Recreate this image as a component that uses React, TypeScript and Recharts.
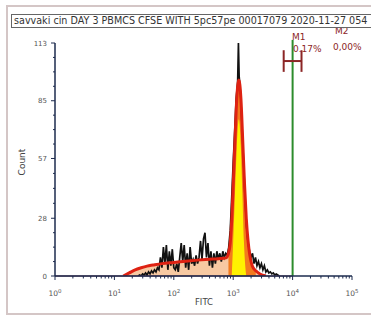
import React from 'react';
import { ComposedChart, Area, Line, XAxis, YAxis, ReferenceLine } from 'recharts';

// Histogram header and axis labelling
const title = 'savvaki cin DAY 3 PBMCS CFSE WITH 5pc57pe 00017079 2020-11-27 054';
const decades = [0, 1, 2, 3, 4, 5];
const countTicks = [0, 28, 57, 85, 113];

// Raw event counts per channel (log10 FITC, count)
const rawCounts: [number, number][] = [
  [1.4, 0], [1.425, 0.5], [1.45, 0], [1.475, 1], [1.5, 0.5], [1.525, 1.5], [1.55, 0.5], [1.575, 2],
  [1.6, 1], [1.625, 2.5], [1.65, 1.5], [1.675, 3], [1.7, 2], [1.725, 4], [1.75, 3], [1.775, 9],
  [1.8, 4], [1.825, 14], [1.85, 6], [1.875, 15], [1.9, 3], [1.925, 12], [1.95, 5], [1.975, 13],
  [2.0, 4], [2.025, 3], [2.05, 6], [2.075, 2], [2.1, 9], [2.125, 16], [2.15, 7], [2.175, 15],
  [2.2, 4], [2.225, 11], [2.25, 3], [2.275, 14], [2.3, 6], [2.325, 8], [2.35, 5], [2.375, 10],
  [2.4, 6], [2.425, 9], [2.45, 17], [2.475, 8], [2.5, 18], [2.525, 21], [2.55, 9], [2.575, 16],
  [2.6, 5], [2.625, 12], [2.65, 4], [2.675, 11], [2.7, 6], [2.725, 12], [2.75, 8], [2.775, 11],
  [2.8, 7], [2.825, 12], [2.85, 9], [2.875, 11], [2.9, 10], [2.925, 14], [2.95, 22], [2.975, 38],
  [3.0, 55], [3.025, 70], [3.05, 86], [3.075, 94], [3.088, 113], [3.1, 97], [3.125, 88], [3.15, 72],
  [3.175, 55], [3.2, 38], [3.225, 24], [3.25, 16], [3.275, 12], [3.3, 9], [3.325, 11], [3.35, 6],
  [3.375, 9], [3.4, 5], [3.425, 7], [3.45, 4], [3.475, 6], [3.5, 3], [3.525, 5], [3.55, 2],
  [3.575, 3], [3.6, 1.5], [3.625, 2], [3.65, 1], [3.675, 1.5], [3.7, 0.5], [3.725, 1], [3.75, 0.5],
  [3.775, 0],
];

// Fitted model curve
const fitCounts: [number, number][] = [
  [1.15, 0], [1.25, 1.5], [1.35, 3], [1.45, 4], [1.55, 4.8], [1.65, 5.3], [1.8, 6], [2.0, 6.6],
  [2.2, 7.2], [2.4, 7.7], [2.6, 8.1], [2.75, 8.4], [2.88, 8.8], [2.92, 11], [2.95, 16], [2.98, 30],
  [3.0, 44], [3.03, 66], [3.06, 86], [3.095, 95], [3.13, 86], [3.16, 66], [3.19, 45], [3.22, 28],
  [3.25, 17], [3.28, 10], [3.32, 5], [3.38, 2.5], [3.45, 1], [3.55, 0],
];

// Parent-generation peak component
const peakCore: [number, number][] = [
  [2.975, 0], [3.0, 17], [3.03, 40], [3.06, 62], [3.095, 76], [3.13, 62], [3.155, 40], [3.18, 17], [3.22, 0],
];

// Marker gate M1 and divider
const gateX = 4;
const m1Range = { from: 3.85, to: 4.15, low: 99, high: 109.5 };
const m1Label = { name: 'M1', pct: '0.17%' };
const m2Label = { name: 'M2', pct: '0,00%' };

const toRows = (pts: [number, number][]) => pts.map(([d, c]) => ({ d, c }));
const rawRows = toRows(rawCounts);
const fitRows = toRows(fitCounts);
const peakRows = fitRows.filter((r) => r.d >= 2.9 && r.d <= 3.4);
const coreRows = toRows(peakCore);

const xTicks: number[] = [];
decades.forEach((n) => {
  xTicks.push(n);
  if (n < decades[decades.length - 1]) {
    for (let k = 2; k <= 9; k++) xTicks.push(n + Math.log10(k));
  }
});
const yTicks: number[] = [];
countTicks.forEach((v, i) => {
  yTicks.push(v);
  if (i < countTicks.length - 1) {
    const next = countTicks[i + 1];
    for (let j = 1; j < 4; j++) yTicks.push(v + ((next - v) * j) / 4);
  }
});

const AXIS = '#1d2b4e';
const LABEL = '#555';
const MARK = '#8c2626';
const FONT = 'DejaVu Sans, Verdana, sans-serif';

const XTick = (props: any) => {
  const { x, y, payload } = props;
  const v = payload.value as number;
  const major = Math.abs(v - Math.round(v)) < 1e-6;
  return (
    <g>
      <line x1={x} x2={x} y1={y} y2={y + (major ? 4 : 2.5)} stroke={AXIS} strokeWidth={1} />
      {major && (
        <text x={x} y={y + 20} textAnchor="middle" fontSize={7.5} fill={LABEL} fontFamily={FONT}>
          10
          <tspan fontSize={5.5} dy={-3.5}>{Math.round(v)}</tspan>
        </text>
      )}
    </g>
  );
};

const YTick = (props: any) => {
  const { x, y, payload } = props;
  const v = payload.value as number;
  const major = countTicks.includes(v);
  return (
    <g>
      <line x1={x} x2={x - (major ? 4 : 2)} y1={y} y2={y} stroke={AXIS} strokeWidth={1} />
      {major && (
        <text x={x - 8} y={y} dy={2.5} textAnchor="end" fontSize={7} fill={LABEL} fontFamily={FONT}>
          {v}
        </text>
      )}
    </g>
  );
};

export default function App() {
  return (
    <div
      style={{
        position: 'absolute',
        left: 0,
        top: 0,
        width: 371,
        height: 322,
        background: '#fff',
        overflow: 'hidden',
        fontFamily: FONT,
      }}
    >
      <div
        style={{
          position: 'absolute',
          left: 6,
          top: 5,
          width: 420,
          height: 306,
          border: '2px solid #d4c6c6',
        }}
      />
      <div style={{ position: 'absolute', left: 0, top: 0 }}>
        <ComposedChart width={371} height={322} margin={{ top: 43, right: 19, bottom: 16, left: 25 }}>
          <XAxis
            type="number"
            dataKey="d"
            domain={[0, 5]}
            ticks={xTicks}
            interval={0}
            tick={<XTick />}
            tickLine={false}
            tickSize={0}
            tickMargin={0}
            height={30}
            axisLine={{ stroke: AXIS, strokeWidth: 1.5 }}
            allowDataOverflow
          />
          <YAxis
            type="number"
            dataKey="c"
            domain={[0, 113]}
            ticks={yTicks}
            interval={0}
            tick={<YTick />}
            tickLine={false}
            tickSize={0}
            tickMargin={0}
            width={30}
            axisLine={{ stroke: AXIS, strokeWidth: 1.5 }}
            allowDataOverflow
          />
          <Area
            data={fitRows}
            dataKey="c"
            type="monotone"
            stroke="none"
            fill="#f7c9a2"
            fillOpacity={1}
            isAnimationActive={false}
          />
          <Line
            data={rawRows}
            dataKey="c"
            type="linear"
            stroke="#111"
            strokeWidth={1.7}
            dot={false}
            isAnimationActive={false}
          />
          <Area
            data={peakRows}
            dataKey="c"
            type="monotone"
            stroke="none"
            fill="#f27a1e"
            fillOpacity={1}
            isAnimationActive={false}
          />
          <Area
            data={coreRows}
            dataKey="c"
            type="monotone"
            stroke="none"
            fill="#fff200"
            fillOpacity={1}
            isAnimationActive={false}
          />
          <Line
            data={fitRows}
            dataKey="c"
            type="monotone"
            stroke="#de2212"
            strokeWidth={3}
            dot={false}
            isAnimationActive={false}
          />
          <ReferenceLine
            segment={[{ x: 0, y: 0 }, { x: gateX, y: 0 }]}
            stroke="#6e2438"
            strokeWidth={1.2}
            ifOverflow="visible"
          />
          <ReferenceLine
            segment={[{ x: gateX, y: 0 }, { x: gateX, y: 114.5 }]}
            stroke="#2c8c2c"
            strokeWidth={2}
            ifOverflow="visible"
          />
          <ReferenceLine
            segment={[{ x: m1Range.from, y: m1Range.low }, { x: m1Range.from, y: m1Range.high }]}
            stroke={MARK}
            strokeWidth={2}
            ifOverflow="visible"
          />
          <ReferenceLine
            segment={[{ x: m1Range.to, y: m1Range.low }, { x: m1Range.to, y: m1Range.high }]}
            stroke={MARK}
            strokeWidth={2}
            ifOverflow="visible"
          />
          <ReferenceLine
            segment={[
              { x: m1Range.from, y: (m1Range.low + m1Range.high) / 2 },
              { x: m1Range.to, y: (m1Range.low + m1Range.high) / 2 },
            ]}
            stroke={MARK}
            strokeWidth={2}
            ifOverflow="visible"
          />
        </ComposedChart>
      </div>
      <svg
        width={371}
        height={322}
        style={{ position: 'absolute', left: 0, top: 0, pointerEvents: 'none' }}
        fontFamily={FONT}
      >
        <text x={25} y={162} transform="rotate(-90 25 162)" textAnchor="middle" fontSize={9} fill="#444">
          Count
        </text>
        <text x={204} y={305} textAnchor="middle" fontSize={8.5} fill="#444">
          FITC
        </text>
        <text x={292} y={40} fontSize={9} fill={MARK}>{m1Label.name}</text>
        <text x={293} y={52} fontSize={9} fill={MARK}>{m1Label.pct}</text>
        <text x={335} y={34} fontSize={9} fill={MARK}>{m2Label.name}</text>
        <text x={333} y={50} fontSize={9} fill={MARK}>{m2Label.pct}</text>
      </svg>
      <div
        style={{
          position: 'absolute',
          left: 11,
          top: 14,
          width: 420,
          height: 12,
          border: '1px solid #666',
          background: '#fff',
          fontSize: 9.6,
          lineHeight: '12px',
          paddingLeft: 2,
          whiteSpace: 'nowrap',
          color: '#333',
          boxSizing: 'content-box',
        }}
      >
        {title}
      </div>
    </div>
  );
}
